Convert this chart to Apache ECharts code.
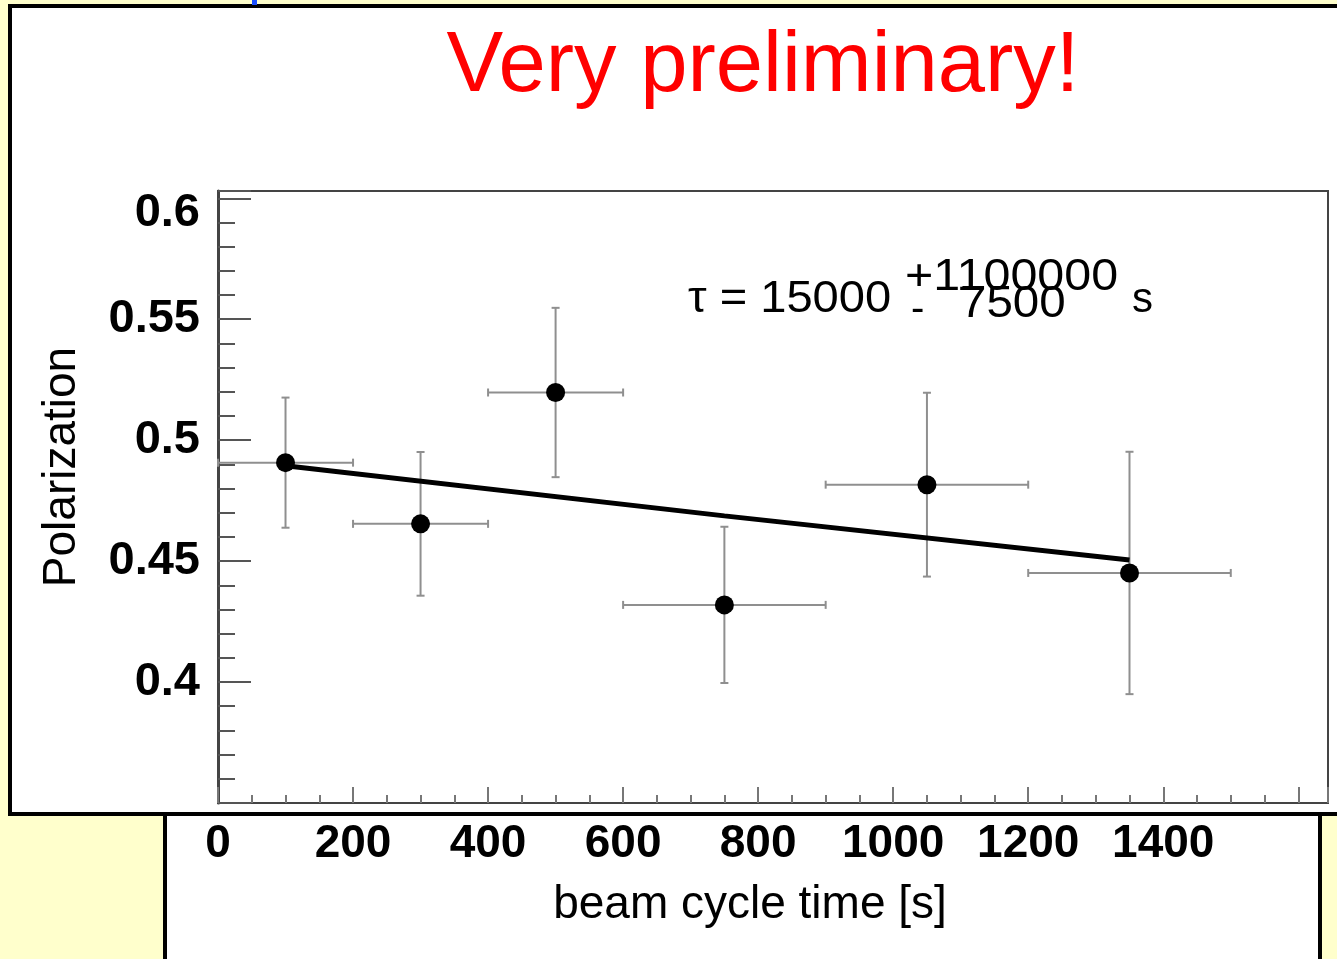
<!DOCTYPE html>
<html><head><meta charset="utf-8">
<script src="https://cdn.jsdelivr.net/npm/echarts@6.0.0/dist/echarts.min.js"></script>
<style>html,body{margin:0;padding:0;background:#ffffcc;overflow:hidden}#c{width:1337px;height:959px}</style>
</head><body><div id="c"></div>
<script>
// data
const cycleTime = [100, 300, 500, 750, 1050, 1350];
const cycleTimeErr = [100, 100, 100, 150, 150, 150];
const polarization = [0.4907, 0.4654, 0.5197, 0.4319, 0.4816, 0.4451];
const polarizationErr = [0.0269, 0.0297, 0.0350, 0.0323, 0.0380, 0.0501];
const fitTime = [100, 750, 1350];
const fitPolarization = [0.4894, 0.4687, 0.4505];
const xLabelValues = [0, 200, 400, 600, 800, 1000, 1200, 1400];
const yLabelValues = [0.4, 0.45, 0.5, 0.55, 0.6];

const FONT = '"Liberation Sans", Arial, Helvetica, sans-serif';
const chart = echarts.init(document.getElementById('c'), null, {renderer: 'canvas'});

const errData = cycleTime.map((t, i) => [t, polarization[i], cycleTimeErr[i], polarizationErr[i]]);
const pointData = cycleTime.map((t, i) => [t, polarization[i]]);
const fitData = fitTime.map((t, i) => [t, fitPolarization[i]]);

function near(v, list) { return list.some(x => Math.abs(x - v) < 1e-6); }

chart.setOption({
  animation: false,
  backgroundColor: 'transparent',
  grid: {left: 218, top: 191, width: 1110, height: 612, show: true,
         backgroundColor: '#ffffff', borderColor: '#444', borderWidth: 2},
  xAxis: {
    type: 'value', min: 0, max: 1644, interval: 200,
    axisLine: {show: true, lineStyle: {color: '#444', width: 2}},
    axisTick: {show: true, inside: true, length: 16, lineStyle: {color: '#777', width: 2}},
    minorTick: {show: true, splitNumber: 4, length: 8, lineStyle: {color: '#777', width: 2}},
    splitLine: {show: false},
    axisLabel: {
      margin: 18, fontSize: 46, fontWeight: 'bold', fontFamily: FONT, color: '#000',
      showMinLabel: true, showMaxLabel: false,
      formatter: v => near(v, xLabelValues) ? String(v) : ''
    }
  },
  yAxis: {
    type: 'value', min: 0.35, max: 0.603, interval: 0.05,
    axisLine: {show: true, lineStyle: {color: '#444', width: 3}},
    axisTick: {show: true, inside: true, length: 33, lineStyle: {color: '#555', width: 2}},
    minorTick: {show: true, splitNumber: 5, length: 17, lineStyle: {color: '#555', width: 2}},
    splitLine: {show: false},
    axisLabel: {
      margin: 18, fontSize: 47, fontWeight: 'bold', fontFamily: FONT, color: '#000',
      showMinLabel: false, showMaxLabel: false,
      formatter: function (v) {
        if (!near(v, yLabelValues)) return '';
        const s = String(Math.round(v * 100) / 100);
        return Math.abs(v - 0.6) < 1e-6 ? '{low|' + s + '}' : s;
      },
      rich: {low: {fontSize: 47, fontWeight: 'bold', fontFamily: FONT, color: '#000', padding: [30, 0, 0, 0]}}
    }
  },
  graphic: [
    {type: 'rect', z: -100, shape: {x: 10, y: 6, width: 1345, height: 808},
     style: {fill: '#ffffff', stroke: '#000', lineWidth: 4}},
    {type: 'rect', z: -99, shape: {x: 165, y: 814, width: 1155, height: 160},
     style: {fill: '#ffffff', stroke: '#000', lineWidth: 4}},
    {type: 'rect', z: -98, shape: {x: 252, y: 0, width: 5, height: 5},
     style: {fill: '#1a4fff'}},
    {type: 'text', x: 763, y: 68, style: {text: 'Very preliminary!', fill: '#ff0000',
      fontSize: 85, fontFamily: FONT, align: 'center', verticalAlign: 'middle'}},
    {type: 'text', x: 62, y: 467, rotation: Math.PI / 2, style: {text: 'Polarization', fill: '#000',
      fontSize: 46, fontFamily: FONT, align: 'center', verticalAlign: 'middle'}},
    {type: 'text', x: 750, y: 905, style: {text: 'beam cycle time [s]', fill: '#000',
      fontSize: 46, fontFamily: FONT, align: 'center', verticalAlign: 'middle'}},
    {type: 'text', x: 688, y: 300, scaleX: 1.07, style: {text: 'τ = 15000', fill: '#000',
      fontSize: 44, fontFamily: FONT, align: 'left', verticalAlign: 'middle'}},
    {type: 'text', x: 905, y: 278, scaleX: 1.1, style: {text: '+1100000', fill: '#000',
      fontSize: 44, fontFamily: FONT, align: 'left', verticalAlign: 'middle'}},
    {type: 'text', x: 911, y: 310, style: {text: '-', fill: '#000',
      fontSize: 40, fontFamily: FONT, align: 'left', verticalAlign: 'middle'}},
    {type: 'text', x: 960, y: 305, scaleX: 1.08, style: {text: '7500', fill: '#000',
      fontSize: 44, fontFamily: FONT, align: 'left', verticalAlign: 'middle'}},
    {type: 'text', x: 1132, y: 300, style: {text: 's', fill: '#000',
      fontSize: 42, fontFamily: FONT, align: 'left', verticalAlign: 'middle'}}
  ],
  series: [
    {
      type: 'custom', z: 2, data: errData,
      renderItem: function (params, api) {
        const x = api.value(0), y = api.value(1), xe = api.value(2), ye = api.value(3);
        const l = api.coord([x - xe, y]), r = api.coord([x + xe, y]);
        const t = api.coord([x, y + ye]), b = api.coord([x, y - ye]);
        const c = 4;
        const st = {stroke: '#8f8f8f', lineWidth: 2};
        const ln = (x1, y1, x2, y2) => ({type: 'line', shape: {x1, y1, x2, y2}, style: st});
        return {type: 'group', children: [
          ln(l[0], l[1], r[0], r[1]),
          ln(t[0], t[1], b[0], b[1]),
          ln(l[0], l[1] - c, l[0], l[1] + c),
          ln(r[0], r[1] - c, r[0], r[1] + c),
          ln(t[0] - c, t[1], t[0] + c, t[1]),
          ln(b[0] - c, b[1], b[0] + c, b[1])
        ]};
      }
    },
    {
      type: 'line', z: 3, data: fitData, showSymbol: false, symbol: 'none',
      lineStyle: {color: '#000', width: 5}
    },
    {
      type: 'scatter', z: 4, data: pointData, symbol: 'circle', symbolSize: 19,
      itemStyle: {color: '#000', opacity: 1}
    }
  ]
});
</script></body></html>
